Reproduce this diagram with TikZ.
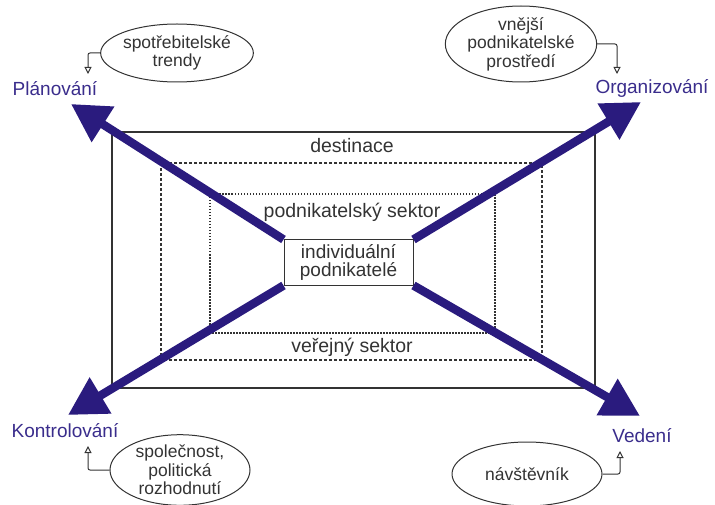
\documentclass[tikz,border=0pt]{standalone}
\usepackage{fontspec}
\setmainfont{Liberation Sans}
\usetikzlibrary{shapes,arrows.meta,positioning}
\definecolor{navy}{HTML}{2A1B7E}
\definecolor{ink}{HTML}{333333}
\definecolor{func}{HTML}{3A2D8C}

\begin{document}
\begin{tikzpicture}[x=1pt,y=-1pt]
  \tikzstyle{frame} = [draw=ink,line width=1.4pt]
  \tikzstyle{zone} = [draw=ink,line width=1.4pt,dash pattern=on 3pt off 2pt]
  \tikzstyle{core} = [draw=ink,line width=1.4pt,dash pattern=on 1.5pt off 1.5pt]
  \tikzstyle{sector} = [text=ink,font=\fontsize{19.5}{19.5}\selectfont]
  \tikzstyle{activity} = [text=func,font=\fontsize{19}{21}\selectfont]
  \tikzstyle{infl} = [draw=ink,ellipse,line width=1pt,align=center,text=ink,inner sep=0pt,
    font=\fontsize{17.5}{18.5}\selectfont]
  \tikzstyle{arrow} = [navy,line width=8.5pt,-{Triangle[length=38pt,width=40pt]}]
  \tikzstyle{feed} = [draw=ink,line width=1pt,rounded corners=2pt,
    -{Triangle[open,length=7pt,width=7pt]}]
  \useasboundingbox (0,0) rectangle (715,505);
  % nested sectors
  \draw [frame] (112,132) rectangle (595,388);
  \draw [zone] (161,163) rectangle (542,360);
  \draw [core] (210,194) rectangle (495,333);
  \node (dest) [sector] at (352,146) {destinace};
  \node (busi) [sector] at (352,212) {podnikatelský sektor};
  \node (publ) [sector] at (352,347) {veřejný sektor};
  \node (indiv) [draw=ink,line width=1pt,fill=white,align=center,text=ink,
    font=\fontsize{19}{18.5}\selectfont,minimum width=129pt,minimum height=45pt,
    inner sep=0pt] at (348.5,262.5) {individuální\\podnikatelé};
  % management functions
  \node (plan) [activity] at (55,89) {Plánování};
  \node (orga) [activity] at (652,88) {Organizování};
  \node (ctrl) [activity] at (65,431) {Kontrolování};
  \node (lead) [activity] at (642,436) {Vedení};
  \coordinate (plantip) at (71,104);
  \coordinate (orgatip) at (641,102);
  \coordinate (ctrltip) at (68,415);
  \coordinate (leadtip) at (640,416);
  \draw [arrow] (indiv.north west) -- (plantip);
  \draw [arrow] (indiv.north east) -- (orgatip);
  \draw [arrow] (indiv.south west) -- (ctrltip);
  \draw [arrow] (indiv.south east) -- (leadtip);
  % influences
  \node (trend) [infl,minimum width=142pt,minimum height=58pt] at (177,53)
    {spotřebitelské\\trendy};
  \node (envi) [infl,minimum width=143pt,minimum height=76pt] at (521,44)
    {vnější\\podnikatelské\\prostředí};
  \node (poli) [infl,minimum width=140pt,minimum height=66pt] at (180,470)
    {společnost,\\politická\\rozhodnutí};
  \node (visit) [infl,minimum width=150pt,minimum height=64pt] at (527,474)
    {návštěvník};
  \coordinate (planin) at (88,74);
  \coordinate (orgain) at (617,74);
  \coordinate (ctrlin) at (88,446);
  \coordinate (leadin) at (620,451);
  \draw [feed] (trend.west) -| (planin);
  \draw [feed] (envi.east) -| (orgain);
  \draw [feed] (poli.west) -| (ctrlin);
  \draw [feed] (visit.east) -| (leadin);
\end{tikzpicture}
\end{document}
